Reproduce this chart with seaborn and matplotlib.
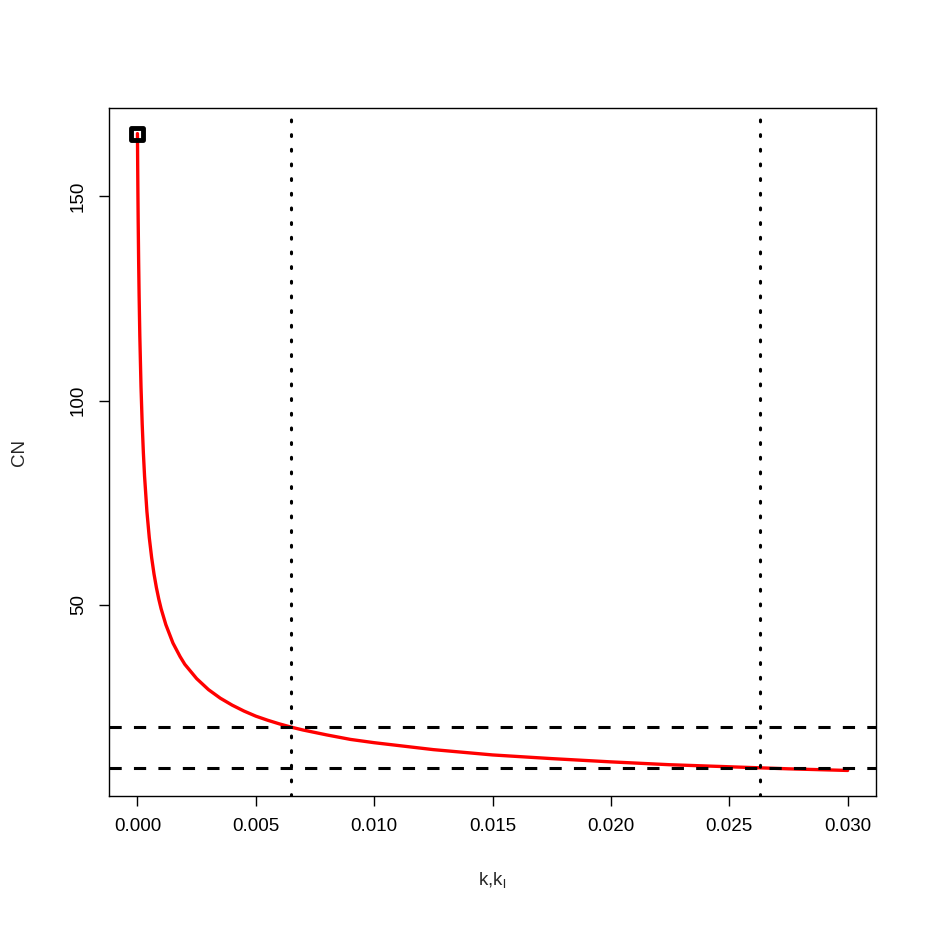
import numpy as np
import pandas as pd
import matplotlib
matplotlib.use("Agg")
import matplotlib.pyplot as plt
from matplotlib.markers import MarkerStyle
import seaborn as sns

# values
k_vals = [0.0, 0.00001, 0.00002, 0.00003, 0.00005, 0.00007, 0.0001, 0.00015,
          0.0002, 0.00025, 0.0003, 0.0004, 0.0005, 0.0006, 0.0007, 0.0008,
          0.0009, 0.001, 0.0012, 0.0015, 0.0018, 0.002, 0.0025, 0.003, 0.0035,
          0.004, 0.0045, 0.005, 0.0055, 0.006, 0.0065, 0.007, 0.008, 0.009,
          0.010, 0.0125, 0.015, 0.0175, 0.020, 0.0225, 0.025, 0.0275, 0.030]
cn_vals = [165.4, 157.4, 150.5, 144.4, 134.2, 125.8, 115.8, 103.4,
           94.3, 87.2, 81.5, 72.8, 66.4, 61.5, 57.5, 54.2,
           51.4, 49.0, 45.1, 40.6, 37.3, 35.4, 31.9, 29.2, 27.1,
           25.4, 23.95, 22.7, 21.7, 20.8, 20.0, 19.3, 18.1, 17.0,
           16.2, 14.5, 13.2, 12.3, 11.5, 10.8, 10.3, 9.8, 9.4]
h_lines = [20, 10]
v_lines = [0.0065, 0.0263]
x_ticks = [0.000, 0.005, 0.010, 0.015, 0.020, 0.025, 0.030]
y_ticks = [50, 100, 150]

df = pd.DataFrame({"k": k_vals, "CN": cn_vals})

sns.set_style("ticks")
plt.rcParams['font.family'] = ['Liberation Sans', 'DejaVu Sans']
plt.rcParams['mathtext.fontset'] = 'custom'
plt.rcParams['mathtext.rm'] = 'Liberation Sans'
plt.rcParams['mathtext.it'] = 'Liberation Sans'

fig = plt.figure(figsize=(9.32, 9.32), dpi=100)
ax = fig.add_axes([0.117, 0.146, 0.823, 0.738])

sns.lineplot(data=df, x="k", y="CN", color="red", linewidth=2.4, ax=ax, zorder=3)
for h in h_lines:
    ax.axhline(h, color="black", linestyle=(0, (4, 4)), linewidth=2.2, zorder=4)
for v in v_lines:
    ax.axvline(v, color="black", linestyle=(0, (0.6, 4.2)), linewidth=2.2,
               dash_capstyle="round", zorder=4)
ax.plot([k_vals[0]], [cn_vals[0]], marker=MarkerStyle("s", joinstyle="round"),
        markersize=8, markerfacecolor="none",
        markeredgecolor="black", markeredgewidth=3.5, zorder=5)

xr = max(k_vals) - min(k_vals)
yr = max(cn_vals) - min(cn_vals)
ax.set_xlim(min(k_vals) - 0.04 * xr, max(k_vals) + 0.04 * xr)
ax.set_ylim(min(cn_vals) - 0.04 * yr, max(cn_vals) + 0.04 * yr)

ax.set_xticks(x_ticks)
ax.set_xticklabels([f"{t:.3f}" for t in x_ticks])
ax.set_yticks(y_ticks)
ax.set_yticklabels([str(t) for t in y_ticks], rotation=90, va="center")
ax.tick_params(direction="out", length=7, width=1, labelsize=13.5, pad=9, colors="black")

ax.set_xlabel(r"k,$\mathrm{k_l}$", fontsize=13.5, labelpad=25)
ax.set_ylabel("CN", fontsize=13.5, labelpad=30)

for s in ax.spines.values():
    s.set_visible(True)
    s.set_linewidth(1)
    s.set_color("black")

fig.savefig("out.png", dpi=100)
